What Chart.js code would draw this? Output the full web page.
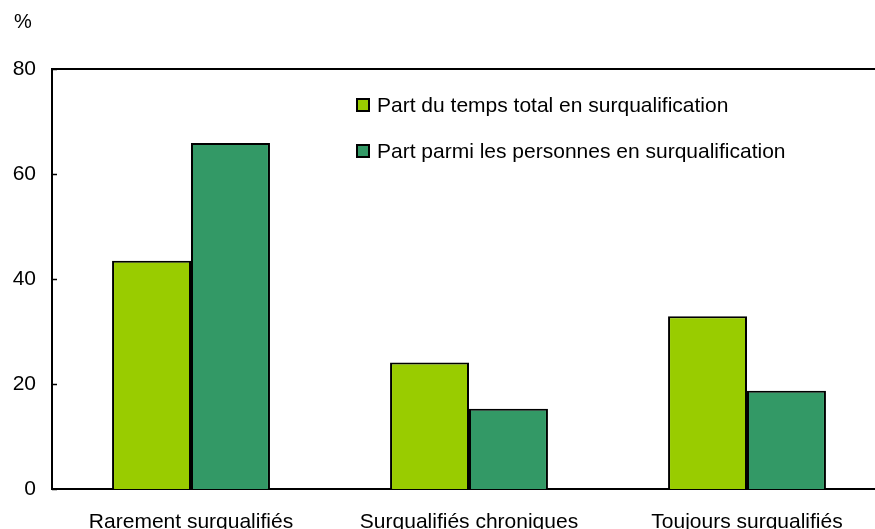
<!DOCTYPE html>
<html>
<head>
<meta charset="utf-8">
<script src="https://cdn.jsdelivr.net/npm/chart.js@4"></script>
<style>
  html, body { margin: 0; padding: 0; background: #fff; overflow: hidden; }
  #wrap { width: 890px; height: 529px; }
</style>
</head>
<body>
<div id="wrap"><canvas id="bar-chart"></canvas></div>
<script>
const categories = ["Rarement surqualifiés", "Surqualifiés chroniques", "Toujours surqualifiés"];
const seriesNames = ["Part du temps total en surqualification", "Part parmi les personnes en surqualification"];
const partTemps = [43.5, 24.1, 32.9];
const partPersonnes = [65.9, 15.3, 18.7];
const yTicks = [0, 20, 40, 60, 80];

const FONT = "'Liberation Sans', Arial, sans-serif";
const colors = ["#99cc00", "#339966"];

// frame, inner ticks, "%" and legend drawn by hand
const decor = {
  id: "decor",
  afterDraw(chart) {
    const ctx = chart.ctx;
    const a = chart.chartArea;
    const y = chart.scales.y;
    ctx.save();
    ctx.strokeStyle = "#000";
    ctx.lineWidth = 2;
    ctx.beginPath();
    ctx.moveTo(a.left, a.top);
    ctx.lineTo(a.right, a.top);
    ctx.stroke();
    ctx.lineWidth = 1.5;
    yTicks.forEach(v => {
      const py = Math.round(y.getPixelForValue(v)) + 0.5;
      ctx.beginPath();
      ctx.moveTo(a.left, py);
      ctx.lineTo(a.left + 5, py);
      ctx.stroke();
    });
    ctx.fillStyle = "#000";
    ctx.font = "20px " + FONT;
    ctx.textBaseline = "middle";
    ctx.textAlign = "left";
    ctx.fillText("%", 14, 22);
    ctx.font = "21px " + FONT;
    chart.data.datasets.forEach((ds, i) => {
      const ly = 105 + i * 46;
      ctx.fillStyle = ds.backgroundColor;
      ctx.fillRect(357, ly - 6, 12, 12);
      ctx.lineWidth = 2;
      ctx.strokeStyle = "#000";
      ctx.strokeRect(357, ly - 6, 12, 12);
      ctx.fillStyle = "#000";
      ctx.fillText(ds.label, 377, ly + 1);
    });
    ctx.restore();
  }
};

let chartBar = new Chart(document.getElementById("bar-chart"), {
  type: "bar",
  data: {
    labels: categories,
    datasets: [
      { label: seriesNames[0], data: partTemps, backgroundColor: colors[0] },
      { label: seriesNames[1], data: partPersonnes, backgroundColor: colors[1] }
    ]
  },
  options: {
    responsive: true,
    maintainAspectRatio: false,
    animation: false,
    layout: { padding: { top: 69, right: 4, left: 0, bottom: 0 } },
    datasets: {
      bar: {
        borderColor: "#000",
        borderWidth: 2,
        categoryPercentage: 0.568,
        barPercentage: 1
      }
    },
    plugins: {
      legend: { display: false },
      tooltip: { enabled: false }
    },
    scales: {
      x: {
        grid: { display: false, drawTicks: false },
        border: { color: "#000", width: 2 },
        ticks: { color: "#000", font: { family: FONT, size: 21 }, padding: 21, maxRotation: 0 },
        afterFit(scale) { scale.height = 40; }
      },
      y: {
        min: 0,
        max: 80,
        grid: { display: false, drawTicks: false },
        border: { color: "#000", width: 2 },
        afterBuildTicks(scale) { scale.ticks = yTicks.map(v => ({ value: v })); },
        ticks: { color: "#000", font: { family: FONT, size: 21 }, padding: 16 },
        afterFit(scale) { scale.width = 52; }
      }
    }
  },
  plugins: [decor]
});
</script>
</body>
</html>
